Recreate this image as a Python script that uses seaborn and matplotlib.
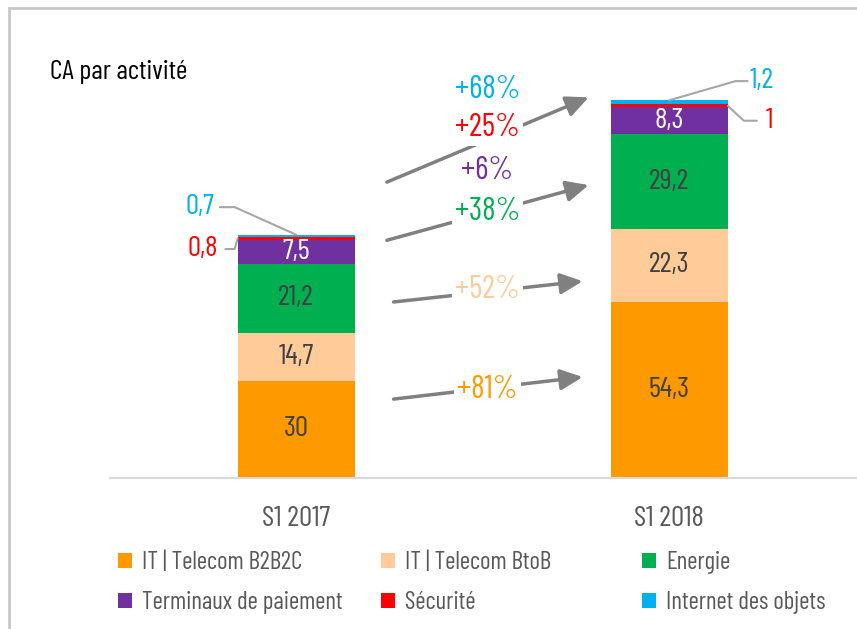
import numpy as np
import pandas as pd
import matplotlib
matplotlib.use("Agg")
import matplotlib.pyplot as plt
import seaborn as sns
from matplotlib.patches import Patch, Rectangle

# Données : chiffre d'affaires par activité (S1 2017 / S1 2018)
periodes = ["S1 2017", "S1 2018"]
activites = ["IT | Telecom B2B2C", "IT | Telecom BtoB", "Energie",
             "Terminaux de paiement", "Sécurité", "Internet des objets"]
it_b2b2c = [30, 54.3]
it_btob = [14.7, 22.3]
energie = [21.2, 29.2]
terminaux = [7.5, 8.3]
securite = [0.8, 1.0]
iot = [0.7, 1.2]
croissance = ["+81%", "+52%", "+38%", "+6%", "+25%", "+68%"]
couleurs = ["#FF9900", "#FFCC99", "#00B050", "#7030A0", "#FF0000", "#00B0F0"]

valeurs = np.array([it_b2b2c, it_btob, energie, terminaux, securite, iot])
cumul = valeurs.cumsum(axis=0)
bas = cumul - valeurs


def fmt(v):
    return f"{v:g}".replace(".", ",")


sns.set_style("white")
plt.rcParams["font.family"] = ["Barlow Condensed", "DejaVu Sans"]

fig = plt.figure(figsize=(8.57, 6.29), dpi=100)
ax = fig.add_axes([0.128, 0.24, 0.8705, 0.6455])

# Barres empilées : on trace les cumuls du plus haut au plus bas
for i in reversed(range(len(activites))):
    df = pd.DataFrame({"periode": periodes, "valeur": cumul[i]})
    sns.barplot(data=df, x="periode", y="valeur", color=couleurs[i],
                saturation=1, width=0.314, linewidth=0, ax=ax, zorder=2)

ax.set_xlim(-0.5, 1.5)
ax.set_ylim(0, 125)
ax.set_xlabel("")
ax.set_ylabel("")
ax.set_yticks([])
sns.despine(ax=ax, left=True)
ax.spines["bottom"].set_color("#D9D9D9")
ax.spines["bottom"].set_linewidth(1.5)
ax.tick_params(axis="x", length=0, pad=20, labelsize=21, labelcolor="#595959")

# Étiquettes dans les barres
for i in range(4):
    for j in range(2):
        ax.text(j, bas[i, j] + valeurs[i, j] / 2, fmt(valeurs[i, j]),
                ha="center", va="center", fontsize=21,
                color="white" if i == 3 else "#404040", zorder=4)

# Petites valeurs avec traits de rappel
gris = "#A6A6A6"
ax.text(-0.22, 83.4, fmt(iot[0]), ha="right", va="center", fontsize=21, color=couleurs[5])
ax.plot([-0.205, -0.165, 0.0], [83.4, 83.4, cumul[5, 0]], color=gris, lw=1.5, zorder=3)
ax.text(-0.21, 70.5, fmt(securite[0]), ha="right", va="center", fontsize=21, color=couleurs[4])
ax.plot([-0.19, -0.165, -0.157], [70.5, 70.5, bas[4, 0] + valeurs[4, 0] / 2],
        color=gris, lw=1.5, zorder=3)
ax.text(1.215, 122.2, fmt(iot[1]), ha="left", va="center", fontsize=21, color=couleurs[5])
ax.plot([1.0, 1.178, 1.21], [cumul[5, 1], 122.2, 122.2], color=gris, lw=1.5, zorder=3)
ax.text(1.258, 110, fmt(securite[1]), ha="left", va="center", fontsize=21, color=couleurs[4])
ax.plot([1.157, 1.2, 1.235], [bas[4, 1] + valeurs[4, 1] / 2, 110, 110],
        color=gris, lw=1.5, zorder=3)

# Flèches de croissance
fleches = [((0.261, 24.3), (0.768, 31.1)),
           ((0.261, 54.2), (0.768, 60.6)),
           ((0.243, 73.2), (0.784, 90.2)),
           ((0.243, 91.1), (0.784, 117.2))]
for debut, fin in fleches:
    ax.annotate("", xy=fin, xytext=debut, zorder=3,
                arrowprops=dict(arrowstyle="-|>,head_length=0.9,head_width=0.42",
                                color="#808080", lw=2.5, mutation_scale=15,
                                shrinkA=0, shrinkB=0))

pos_croissance = [27.1, 57.8, 81.8, 94.5, 107.7, 119.4]
for txt, y, c in zip(croissance, pos_croissance, couleurs):
    ax.text(0.513, y, txt, ha="center", va="center", fontsize=23, color=c, zorder=5,
            bbox=dict(facecolor="white", edgecolor="none", pad=2))

# Titre et cadre
fig.text(50 / 857, 1 - 72 / 629, "CA par activité", fontsize=20, ha="left",
         va="center", color="black")
fig.add_artist(Rectangle((9 / 857, -0.5), 2, 0.5 + 1 - 8 / 629, transform=fig.transFigure,
                         fill=False, edgecolor="#C8C8C8", lw=2, clip_on=False))

# Légende en trois colonnes
poignees = [Patch(facecolor=c, edgecolor="none") for c in couleurs]
colonnes = [[0, 3], [1, 4], [2, 5]]
xs = [118, 381, 642]
for cols, x in zip(colonnes, xs):
    fig.legend([poignees[k] for k in cols], [activites[k] for k in cols],
               loc="upper left", bbox_to_anchor=(x / 857, 1 - 551 / 629),
               frameon=False, fontsize=18, handlelength=0.55, handleheight=0.55,
               handletextpad=0.4, labelspacing=0.68, borderpad=0, borderaxespad=0,
               labelcolor="#595959")

fig.savefig("out.png", dpi=100)
